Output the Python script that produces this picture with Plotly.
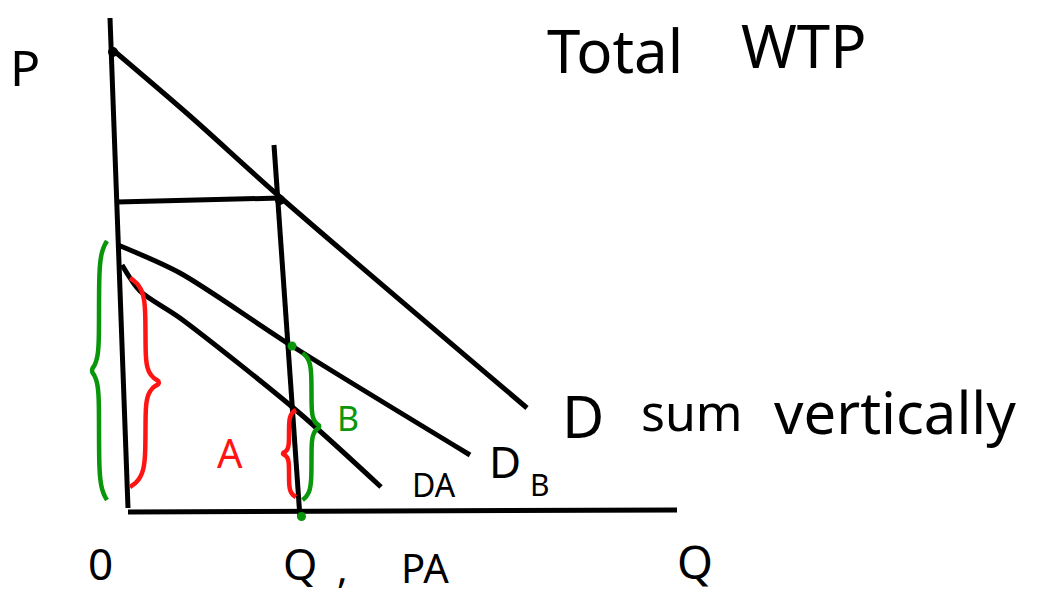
import numpy as np
import plotly.graph_objects as go

# ---- sketch data (quantity Q, price P) ----
p_axis_q = [-0.30, 0.06]
p_axis_p = [9.88, 0.08]
q_axis_q = [0.06, 11.04]
q_axis_p = [0.00, 0.04]

q_line_q = [2.98, 3.50]          # vertical line at the chosen quantity
q_line_p = [7.34, -0.12]
wtp_line_q = [-0.16, 3.10]       # total WTP read across to the price axis
wtp_line_p = [6.20, 6.28]

d_total_q = [-0.24, 1.30, 3.10, 8.04]
d_total_p = [9.24, 7.92, 6.30, 2.08]
d_b_q = [-0.14, 1.10, 3.34, 6.90]
d_b_p = [5.34, 4.78, 3.32, 1.14]
d_a_q = [-0.06, 0.30, 1.10, 3.44, 5.12]
d_a_p = [4.94, 4.42, 3.88, 2.02, 0.50]

black_dot_q = [-0.24, 3.10]
black_dot_p = [9.20, 6.24]
green_dot_q = [3.34, 3.53]
green_dot_p = [3.32, -0.09]

# braces: (base q, low p, high p, depth in q, colour)
GREEN = "#0a960a"
RED = "#ff1414"
braces = [
    (-0.36, 0.24, 5.42, -0.32, GREEN),
    (0.10, 0.50, 4.68, 0.62, RED),
    (3.42, 0.30, 2.04, -0.28, RED),
    (3.55, 0.24, 3.18, 0.36, GREEN),
]

BLACK = "#000000"
LW = 5

fig = go.Figure()


def stroke(qs, ps, color=BLACK, width=LW, shape="spline"):
    fig.add_trace(go.Scatter(
        x=qs, y=ps, mode="lines",
        line=dict(color=color, width=width, shape=shape, smoothing=0.8),
        hoverinfo="skip", showlegend=False))


def brace_points(q0, p_lo, p_hi, depth, n=80):
    t = np.linspace(0, 1, n)
    u = np.minimum(t, 1 - t)
    g = 0.5 * (1 - np.exp(-u / 0.045)) + 0.5 * np.exp(-(0.5 - u) / 0.035)
    return q0 + depth * g, p_lo + (p_hi - p_lo) * t


stroke(p_axis_q, p_axis_p, shape="linear")
stroke(q_axis_q, q_axis_p, shape="linear")
stroke(q_line_q, q_line_p, shape="linear")
stroke(wtp_line_q, wtp_line_p, shape="linear")
stroke(d_total_q, d_total_p)
stroke(d_b_q, d_b_p)
stroke(d_a_q, d_a_p)

for q0, lo, hi, depth, col in braces:
    bq, bp = brace_points(q0, lo, hi, depth)
    stroke(list(bq), list(bp), color=col, width=4.5)

fig.add_trace(go.Scatter(x=black_dot_q, y=black_dot_p, mode="markers",
                         marker=dict(color=BLACK, size=10),
                         hoverinfo="skip", showlegend=False))
fig.add_trace(go.Scatter(x=green_dot_q, y=green_dot_p, mode="markers",
                         marker=dict(color=GREEN, size=9),
                         hoverinfo="skip", showlegend=False))

FONT = "Noto Sans"


def label(text, q, p, size, color=BLACK):
    fig.add_annotation(x=q, y=p, text=text, showarrow=False,
                       xanchor="center", yanchor="middle",
                       font=dict(family=FONT, size=size, color=color))


label("P", -2.0, 8.9, 50)
label("Total", 9.8, 9.24, 60)
label("WTP", 13.56, 9.34, 60)
label("D", 9.16, 1.94, 58)
label("sum", 11.34, 2.0, 50)
label("vertically", 15.4, 2.02, 58)
label("D", 7.6, 1.02, 44)
label("B", 8.3, 0.56, 30)
label("DA", 6.18, 0.56, 32)
label("A", 2.1, 1.2, 40, RED)
label("B", 4.46, 1.88, 34, GREEN)
label("0", -0.5, -1.02, 44)
label("Q", 3.5, -1.02, 44)
label(",", 4.35, -1.1, 40)
label("PA", 6.0, -1.1, 40)
label("Q", 11.4, -0.98, 46)

fig.update_layout(
    width=1042, height=595,
    margin=dict(l=0, r=0, t=0, b=0),
    paper_bgcolor="white", plot_bgcolor="white",
    xaxis=dict(range=[-2.5, 18.34], visible=False, fixedrange=True),
    yaxis=dict(range=[-1.66, 10.24], visible=False, fixedrange=True),
)

fig.write_html("out.html")
